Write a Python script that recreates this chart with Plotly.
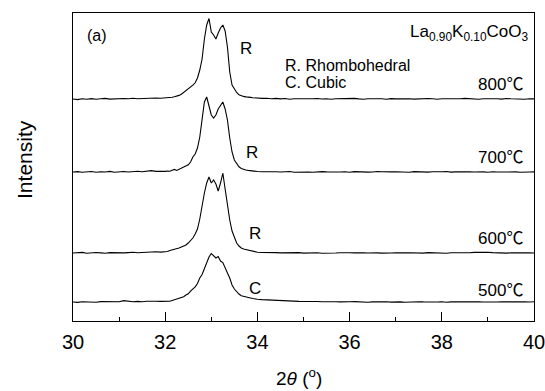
import plotly.graph_objects as go

# Diffraction angle 2θ (degrees) at which intensities were read
two_theta = [
    30.0, 30.1, 30.2, 30.3, 30.4, 30.5, 30.6, 30.7, 30.8, 30.9,
    31.0, 31.1, 31.2, 31.3, 31.4, 31.5, 31.6, 31.7, 31.8, 31.9,
    32.0, 32.05, 32.1, 32.15, 32.2, 32.25, 32.3, 32.35, 32.4, 32.45,
    32.5, 32.55, 32.6, 32.65, 32.7, 32.75, 32.8, 32.85, 32.9, 32.95,
    33.0, 33.05, 33.1, 33.15, 33.2, 33.25, 33.3, 33.35, 33.4, 33.45,
    33.5, 33.55, 33.6, 33.65, 33.7, 33.75, 33.8, 33.85, 33.9, 33.95,
    34.0, 34.1, 34.2, 34.3, 34.4, 34.5, 34.6, 34.7, 34.8, 34.9,
    35.0, 35.1, 35.2, 35.3, 35.4, 35.5, 35.6, 35.7, 35.8, 35.9,
    36.0, 36.1, 36.2, 36.3, 36.4, 36.5, 36.6, 36.7, 36.8, 36.9,
    37.0, 37.1, 37.2, 37.3, 37.4, 37.5, 37.6, 37.7, 37.8, 37.9,
    38.0, 38.1, 38.2, 38.3, 38.4, 38.5, 38.6, 38.7, 38.8, 38.9,
    39.0, 39.1, 39.2, 39.3, 39.4, 39.5, 39.6, 39.7, 39.8, 39.9,
    40.0,
]

# Intensities (a.u.) above each pattern's own baseline
int_800 = [
    0.0, -0.6, 0.3, -0.2, 0.4, -0.3, 0.2, 0.6, -0.1, 0.3,
    0.0, 0.5, 0.2, 0.7, 0.3, 0.6, 0.9, 0.5, 1.0, 0.8,
    1.0, 1.4, 1.2, 1.8, 2.3, 2.8, 3.6, 4.8, 6.5, 8.6,
    10.8, 12.0, 13.8, 16.2, 21.0, 29.0, 40.0, 60.0, 74.0, 80.5,
    67.0, 64.0, 60.0, 66.0, 71.0, 74.0, 68.0, 52.0, 27.0, 14.0,
    10.0, 6.5, 4.2, 3.2, 2.6, 2.1, 2.2, 1.6, 1.3, 1.0,
    0.9, 0.6, 0.8, 0.3, 0.6, 0.1, 0.5, -0.2, 0.3, 0.1,
    0.4, -0.1, 0.2, 0.5, 0.0, 0.3, -0.2, 0.2, 0.4, 0.0,
    0.3, 0.6, 0.1, -0.2, 0.3, 0.5, 0.0, 0.2, -0.3, 0.4,
    0.1, 0.3, 0.7, 0.2, -0.1, 0.3, 0.0, 0.5, 0.2, -0.2,
    0.3, 0.1, 0.4, -0.1, 0.2, 0.6, 0.1, 0.3, -0.2, 0.2,
    0.4, 0.0, 0.3, -0.1, 0.5, 0.2, 0.0, 0.3, -0.2, 0.2,
    0.1,
]
int_700 = [
    0.0, 0.4, -0.3, 0.2, 0.5, -0.2, 0.3, 0.0, 0.6, -0.3,
    0.2, 0.5, 0.0, 0.4, 0.7, 0.3, 0.5, 1.4, 0.6, 0.4,
    0.6, 1.0, 0.7, 1.8, 2.6, 1.6, 2.8, 3.8, 5.0, 5.8,
    7.2, 10.0, 15.0, 18.0, 24.0, 35.0, 55.0, 70.0, 75.0, 66.0,
    57.0, 54.0, 57.0, 63.0, 67.0, 70.0, 63.0, 52.0, 34.0, 20.0,
    12.0, 8.0, 5.2, 3.6, 2.4, 2.0, 1.6, 1.2, 0.9, 0.6,
    0.5, 0.2, 0.4, -0.1, 0.3, 0.0, 0.2, 0.5, -0.2, 0.1,
    0.3, 0.0, -0.3, 0.2, 0.4, 0.1, -0.1, 0.3, 0.0, 0.2,
    -0.2, 0.4, 0.1, 0.3, -0.1, 0.0, 0.5, 0.2, -0.2, 0.1,
    0.3, 0.0, 0.2, -0.3, 0.4, 0.1, 0.2, -0.1, 0.3, 0.0,
    0.2, 0.5, -0.1, 0.1, 0.3, -0.2, 0.2, 0.0, 0.4, 0.1,
    -0.2, 0.3, 0.0, 0.2, -0.1, 0.4, 0.1, -0.3, 0.2, 0.0,
    0.1,
]
int_600 = [
    0.0, 0.3, 0.6, -0.2, 0.2, 0.5, 0.1, -0.3, 0.4, 0.2,
    0.6, 0.1, 0.4, 0.8, 0.3, 0.6, 1.0, 0.7, 1.2, 0.9,
    1.0, 1.5, 2.5, 3.0, 3.5, 4.5, 5.0, 6.0, 7.0, 8.0,
    10.0, 12.0, 15.0, 19.0, 24.0, 34.0, 48.0, 60.0, 70.0, 76.0,
    70.0, 73.0, 69.0, 62.0, 70.0, 80.0, 64.0, 48.0, 33.0, 22.0,
    15.0, 10.0, 7.0, 5.0, 4.0, 3.5, 3.0, 2.0, 1.5, 1.0,
    0.8, 0.5, 0.6, 0.3, 0.4, 0.1, 0.3, 0.0, 0.2, 0.4,
    -0.1, 0.2, 0.0, 0.3, -0.2, 0.1, 0.4, 0.0, 0.2, -0.1,
    0.3, 0.1, -0.2, 0.2, 0.0, 0.4, 0.1, -0.1, 0.3, 0.0,
    0.2, -0.2, 0.1, 0.3, 0.0, 0.2, -0.1, 0.4, 0.1, 0.0,
    0.2, -0.2, 0.3, 0.1, 0.0, 0.4, 0.2, 0.6, 0.9, 1.2,
    0.8, 0.4, 0.1, 0.3, -0.1, 0.2, 0.0, 0.3, -0.2, 0.1,
    0.0,
]
int_500 = [
    0.0, -0.4, 0.3, 0.1, 0.5, -0.2, 0.4, 0.2, 0.6, 0.0,
    0.3, 1.4, 0.5, 0.2, 0.6, 0.3, 0.8, 0.4, 0.7, 0.6,
    0.5, 1.0, 0.8, 1.5, 2.2, 2.5, 3.2, 4.5, 5.2, 7.0,
    8.2, 10.8, 13.0, 15.2, 18.5, 24.0, 27.5, 34.0, 38.5, 45.0,
    48.5, 46.5, 44.0, 45.5, 41.0, 39.5, 35.0, 29.0, 24.0, 17.0,
    13.0, 10.0, 8.0, 6.2, 5.5, 5.0, 4.5, 4.0, 3.5, 3.0,
    2.8, 2.4, 2.1, 1.9, 1.5, 1.3, 1.1, 0.9, 1.0, 0.6,
    0.5, 0.7, 0.3, 0.5, 0.2, 0.4, 0.0, 0.3, 0.1, -0.1,
    0.2, 0.4, 0.0, 0.2, -0.2, 0.1, 0.3, 0.0, 0.2, -0.1,
    0.3, 0.1, -0.2, 0.2, 0.0, 0.3, 0.1, -0.1, 0.2, 0.0,
    0.3, -0.2, 0.1, 0.2, 0.0, 0.4, 0.1, -0.1, 0.2, 0.0,
    -0.2, 0.2, 0.0, 0.3, -0.1, 0.1, 0.2, -0.2, 0.1, 0.0,
    0.2,
]

temperatures = ["800", "700", "600", "500"]
series = [int_800, int_700, int_600, int_500]
offsets = [222, 149, 68, 19]
phase_labels = ["R", "R", "R", "C"]

for s in series:
    assert len(s) == len(two_theta), len(s)

FONT = "Arial, Liberation Sans, Noto Sans CJK SC, sans-serif"
CJK = "Noto Sans CJK SC"

fig = go.Figure()
for name, s, off in zip(temperatures, series, offsets):
    fig.add_trace(go.Scatter(
        x=two_theta, y=[v + off for v in s], mode="lines", name=name + "℃",
        line=dict(color="black", width=1.1), showlegend=False,
    ))

ann = []
# temperature labels (right aligned)
temp_y = [239, 166, 85, 33]
for t, yy in zip(temperatures, temp_y):
    ann.append(dict(x=39.8, y=yy, xref="x", yref="y",
                    text=t + "<span style='font-family:" + CJK + "'>℃</span>", showarrow=False,
                    xanchor="right", yanchor="middle", font=dict(size=17, color="black", family=FONT)))
# phase labels
phase_pos = [(33.57, 273), (33.70, 169), (33.78, 88), (33.78, 33)]
for lab, (xx, yy) in zip(phase_labels, phase_pos):
    ann.append(dict(x=xx, y=yy, xref="x", yref="y", text=lab, showarrow=False,
                    xanchor="left", yanchor="middle", font=dict(size=17, color="black", family=FONT)))
ann.append(dict(x=30.27, y=286, xref="x", yref="y", text="(a)", showarrow=False,
                xanchor="left", yanchor="middle", font=dict(size=16, color="black", family=FONT)))
ann.append(dict(x=34.55, y=256, xref="x", yref="y", text="R. Rhombohedral", showarrow=False,
                xanchor="left", yanchor="middle", font=dict(size=16, color="black", family=FONT)))
ann.append(dict(x=34.55, y=239, xref="x", yref="y", text="C. Cubic", showarrow=False,
                xanchor="left", yanchor="middle", font=dict(size=16, color="black", family=FONT)))
ann.append(dict(x=39.93, y=288, xref="x", yref="y",
                text="La<sub>0.90</sub>K<sub>0.10</sub>CoO<sub>3</sub>", showarrow=False,
                xanchor="right", yanchor="middle", font=dict(size=17, color="black", family=FONT)))
# axis titles
ann.append(dict(x=-0.104, y=0.523, xref="paper", yref="paper", text="Intensity", showarrow=False,
                textangle=-90, xanchor="center", yanchor="middle",
                font=dict(size=21, color="black", family=FONT)))
ann.append(dict(x=0.49, y=-0.226, xref="paper", yref="paper",
                text="2<i>θ</i> (<sup>o</sup>)", showarrow=False,
                xanchor="center", yanchor="bottom", font=dict(size=19, color="black", family=FONT)))

fig.update_layout(
    width=545, height=391,
    margin=dict(l=73, r=11, t=13, b=70, pad=0, autoexpand=False),
    plot_bgcolor="white", paper_bgcolor="white",
    font=dict(family=FONT, color="black"),
    annotations=ann,
    xaxis=dict(
        range=[30, 40], tickvals=[30, 32, 34, 36, 38, 40],
        ticks="inside", ticklen=9, tickwidth=1, tickcolor="black",
        minor=dict(tickvals=[31, 33, 35, 37, 39], ticks="inside", ticklen=4, tickwidth=1, tickcolor="black"),
        showline=True, linecolor="black", linewidth=1, mirror=True,
        showgrid=False, zeroline=False, tickfont=dict(size=20, color="black", family=FONT),
        ticklabeloverflow="allow", ticklabelstandoff=3, automargin=False,
    ),
    yaxis=dict(
        range=[0, 308], showticklabels=False, ticks="",
        showline=True, linecolor="black", linewidth=1, mirror=True,
        showgrid=False, zeroline=False, automargin=False,
    ),
)

fig.write_html("out.html")
